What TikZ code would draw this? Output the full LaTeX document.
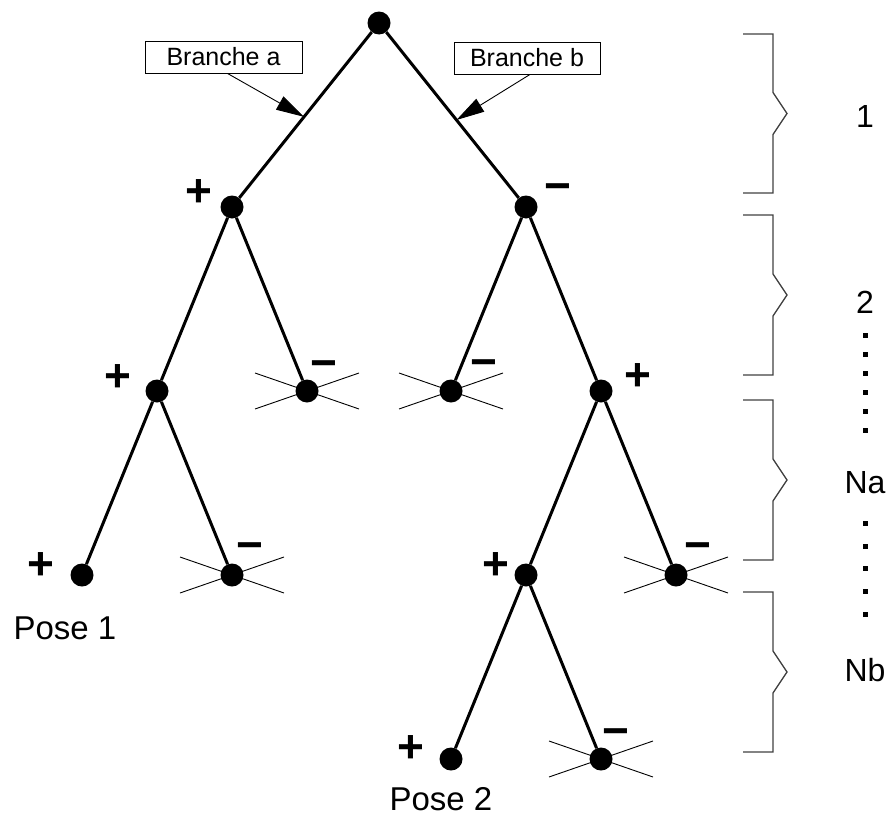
\documentclass[tikz,border=0pt]{standalone}
\usepackage{fontspec}
\setmainfont{Liberation Sans}
\usetikzlibrary{arrows.meta,positioning,calc}

\begin{document}
\begin{tikzpicture}[
  x=1pt, y=-1pt,
  vertex/.style={circle, fill, inner sep=0pt, minimum size=23pt},
  branch/.style={line width=3pt},
  cutline/.style={line width=0.9pt},
  sign/.style={font=\fontsize{46}{46}\selectfont\bfseries, inner sep=0pt},
  tag/.style={draw, line width=0.9pt, font=\fontsize{25}{25}\selectfont, inner xsep=2pt, minimum height=32pt},
  callout/.style={-{Triangle[length=28pt,width=15pt]}, line width=0.9pt},
  lvl/.style={font=\fontsize{32}{32}\selectfont, inner sep=0pt},
  pose/.style={font=\fontsize{33}{33}\selectfont, inner sep=0pt},
  bracket/.style={line width=1.3pt, black!75},
  node distance=184pt and 75pt, on grid,
]
\useasboundingbox (0,0) rectangle (894,819);

% ===== Tree =====
\node[vertex] (root) at (379,23) {};
\node[vertex, below left=184pt and 147pt of root] (a) {};
\node[vertex, below right=184pt and 147pt of root] (b) {};
\node[vertex, below left=of a] (aa) {};
\node[vertex, below right=of a] (ab) {};
\node[vertex, below left=of b] (ba) {};
\node[vertex, below right=of b] (bb) {};
\node[vertex, below left=of aa] (aaa) {};
\node[vertex, below right=of aa] (aab) {};
\node[vertex, below left=of bb] (bba) {};
\node[vertex, below right=of bb] (bbb) {};
\node[vertex, below left=of bba] (bbaa) {};
\node[vertex, below right=of bba] (bbab) {};

\draw[branch] (root) -- (a);
\draw[branch] (root) -- (b);
\draw[branch] (a) -- (aa);
\draw[branch] (a) -- (ab);
\draw[branch] (b) -- (ba);
\draw[branch] (b) -- (bb);
\draw[branch] (aa) -- (aaa);
\draw[branch] (aa) -- (aab);
\draw[branch] (bb) -- (bba);
\draw[branch] (bb) -- (bbb);
\draw[branch] (bba) -- (bbaa);
\draw[branch] (bba) -- (bbab);

% ===== Cut branches =====
\foreach \n in {ab,ba,aab,bbb,bbab} {
  \draw[cutline] ([shift={(-52,-18)}]\n.center) -- ([shift={(52,18)}]\n.center);
  \draw[cutline] ([shift={(-52,18)}]\n.center) -- ([shift={(52,-18)}]\n.center);
}

% ===== Signs =====
\node[sign] (sa) at ([shift={(-33,-14)}]a) {+};
\node[sign] (sb) at ([shift={(32,-14)}]b) {−};
\node[sign] (saa) at ([shift={(-39,-13)}]aa) {+};
\node[sign] (sab) at ([shift={(17,-21)}]ab) {−};
\node[sign] (sba) at ([shift={(33,-22)}]ba) {−};
\node[sign] (sbb) at ([shift={(37,-14)}]bb) {+};
\node[sign] (saaa) at ([shift={(-41,-9)}]aaa) {+};
\node[sign] (saab) at ([shift={(18,-23)}]aab) {−};
\node[sign] (sbba) at ([shift={(-30,-9)}]bba) {+};
\node[sign] (sbbb) at ([shift={(22,-23)}]bbb) {−};
\node[sign] (sbbaa) at ([shift={(-40,-10)}]bbaa) {+};
\node[sign] (sbbab) at ([shift={(15,-21)}]bbab) {−};

\node[pose] (pose1) at ($(aaa)+(-17,53)$) {Pose 1};
\node[pose] (pose2) at ($(bbaa)+(-10,40)$) {Pose 2};

% ===== Branch labels =====
\node[tag, minimum width=157pt] (tagA) at (223.5,57) {Branche a};
\node[tag, minimum width=146pt] (tagB) at (527,58) {Branche b};
\coordinate (hitA) at ($(root)!0.51!(a)$);
\coordinate (hitB) at ($(root)!0.527!(b)$);
\draw[callout] ([xshift=4pt]tagA.south) -- (hitA);
\draw[callout] ([xshift=3pt]tagB.south) -- (hitB);

% ===== Levels =====
\foreach \t/\b in {34/193, 215/375, 400/560, 592/752} {
  \pgfmathsetmacro\m{(\t+\b)/2}
  \draw[bracket] (743,\t) -- (773,\t) -- (773,\m-21) -- (787,\m)
    -- (773,\m+21) -- (773,\b) -- (743,\b);
}
\node[lvl] (l1) at (865,116) {1};
\node[lvl] (l2) at (865,302) {2};
\node[lvl] (lNa) at (865,483) {Na};
\node[lvl] (lNb) at (865,670) {Nb};
\foreach \y in {335,354,373,392,411,430}
  \fill (862.5,\y-2.5) rectangle (867.5,\y+2.5);
\foreach \y in {523,546,568,591,614}
  \fill (862.5,\y-2.5) rectangle (867.5,\y+2.5);

\end{tikzpicture}
\end{document}
